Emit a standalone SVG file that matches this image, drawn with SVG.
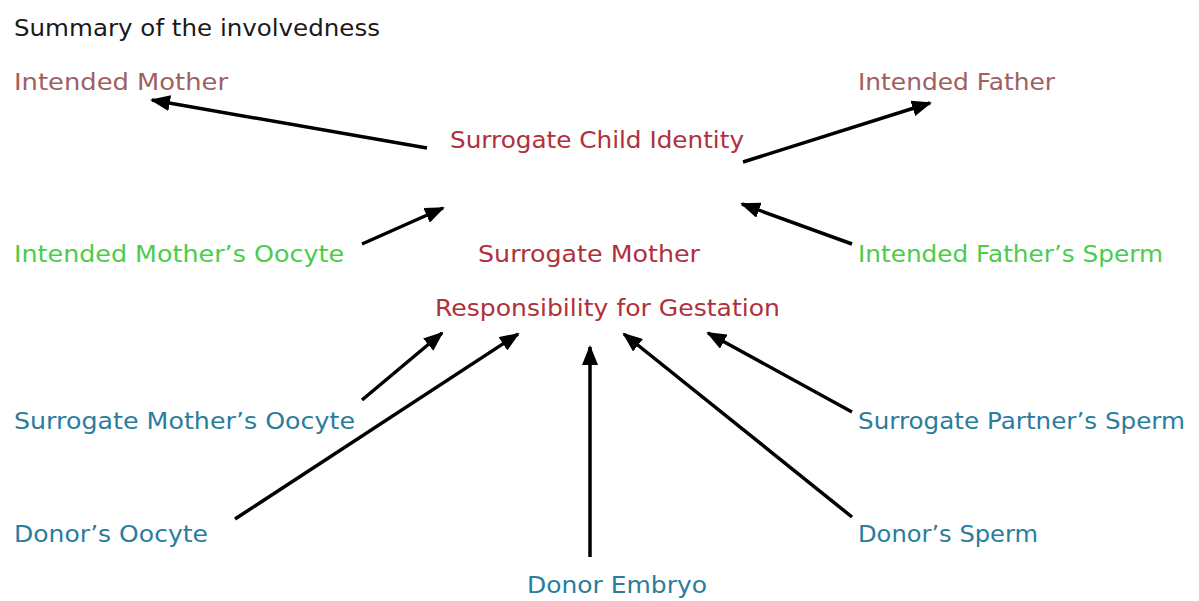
<svg xmlns="http://www.w3.org/2000/svg" width="1199" height="601" viewBox="0 0 1199 601">
<style>
text{font-family:"DejaVu Sans","Liberation Sans",sans-serif;font-size:23px;}
.t{fill:#1a1a1a}
.p{fill:#a06060}
.r{fill:#b0303c}
.g{fill:#4ccc4c}
.b{fill:#2a7d9c}
.c{stroke:#000;stroke-width:3.5;fill:none;marker-end:url(#ah)}
</style>
<defs>
<marker id="ah" markerUnits="userSpaceOnUse" markerWidth="20" markerHeight="16" refX="18" refY="8" orient="auto">
<path d="M0,0 L20,8 L0,16 Z" fill="#000"/>
</marker>
</defs>
<rect width="1199" height="601" fill="#fff"/>
<g id="title"><text class="t" x="14" y="36" textLength="366" lengthAdjust="spacingAndGlyphs">Summary of the involvedness</text></g>
<g id="intended-mother"><text class="p" x="14" y="90" textLength="214" lengthAdjust="spacingAndGlyphs">Intended Mother</text></g>
<g id="intended-father"><text class="p" x="858" y="90" textLength="197" lengthAdjust="spacingAndGlyphs">Intended Father</text></g>
<g id="child-identity"><text class="r" x="450" y="148" textLength="294" lengthAdjust="spacingAndGlyphs">Surrogate Child Identity</text></g>
<g id="im-oocyte"><text class="g" x="14" y="262" textLength="330" lengthAdjust="spacingAndGlyphs">Intended Mother’s Oocyte</text></g>
<g id="surrogate-mother"><text class="r" x="478" y="262" textLength="222" lengthAdjust="spacingAndGlyphs">Surrogate Mother</text></g>
<g id="if-sperm"><text class="g" x="858" y="262" textLength="305" lengthAdjust="spacingAndGlyphs">Intended Father’s Sperm</text></g>
<g id="gestation"><text class="r" x="435" y="316" textLength="345" lengthAdjust="spacingAndGlyphs">Responsibility for Gestation</text></g>
<g id="sm-oocyte"><text class="b" x="14" y="429" textLength="341" lengthAdjust="spacingAndGlyphs">Surrogate Mother’s Oocyte</text></g>
<g id="sp-sperm"><text class="b" x="858" y="429" textLength="327" lengthAdjust="spacingAndGlyphs">Surrogate Partner’s Sperm</text></g>
<g id="donor-oocyte"><text class="b" x="14" y="542" textLength="194" lengthAdjust="spacingAndGlyphs">Donor’s Oocyte</text></g>
<g id="donor-sperm"><text class="b" x="858" y="542" textLength="180" lengthAdjust="spacingAndGlyphs">Donor’s Sperm</text></g>
<g id="donor-embryo"><text class="b" x="527" y="593" textLength="180" lengthAdjust="spacingAndGlyphs">Donor Embryo</text></g>
<g id="connectors">
<line class="c" x1="427" y1="148" x2="152" y2="100"/>
<line class="c" x1="743" y1="162" x2="930" y2="103"/>
<line class="c" x1="362" y1="244" x2="443" y2="208"/>
<line class="c" x1="852" y1="244" x2="742" y2="204"/>
<line class="c" x1="362" y1="400" x2="442" y2="333"/>
<line class="c" x1="235" y1="519" x2="518" y2="334"/>
<line class="c" x1="590" y1="557" x2="590" y2="347"/>
<line class="c" x1="852" y1="517" x2="624" y2="334"/>
<line class="c" x1="852" y1="412" x2="708" y2="333"/>
</g>
</svg>
